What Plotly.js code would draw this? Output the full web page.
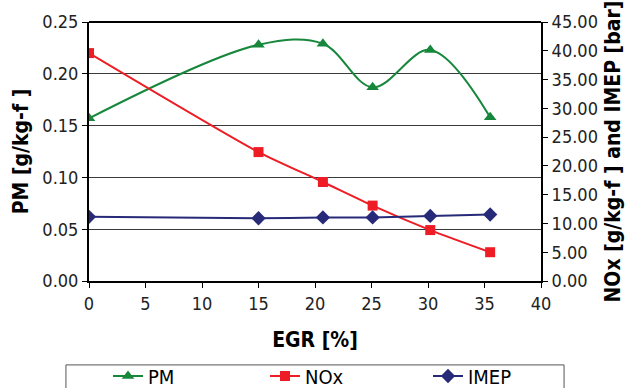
<!DOCTYPE html>
<html><head><meta charset="utf-8">
<script src="https://cdn.plot.ly/plotly-3.0.1.min.js"></script>
<style>body{margin:0;background:#fff}#c{width:630px;height:388px}</style>
</head><body><div id="c"></div>
<script>
const egr = [0, 15, 20.7, 25.1, 30.2, 35.5];
const pm = [0.157, 0.228, 0.229, 0.187, 0.223, 0.158];
const nox = [39.6, 22.4, 17.2, 13.1, 8.85, 5.0];
const imep = [11.15, 10.9, 11.05, 11.05, 11.3, 11.55];
const xTicks = [0, 5, 10, 15, 20, 25, 30, 35, 40];

const cond = "'Liberation Sans Narrow', 'DejaVu Sans Condensed', sans-serif";
const tickFont = {family: cond, size: 18, color: '#222'};
const titleFont = {family: cond, size: 21, color: '#000', weight: 'bold'};
const legFont = {family: cond, size: 20, color: '#000'};

const traces = [
  {x: egr, y: pm, name: 'PM', legend: 'legend', mode: 'lines+markers', line: {color: '#17873c', width: 2, shape: 'spline', smoothing: 1}, marker: {symbol: 'triangle-up', size: 11, color: '#17873c'}},
  {x: egr, y: nox, name: 'NOx', legend: 'legend2', yaxis: 'y2', mode: 'lines+markers', line: {color: '#ee1c24', width: 2, shape: 'spline', smoothing: 0.6}, marker: {symbol: 'square', size: 10, color: '#ee1c24'}},
  {x: egr, y: imep, name: 'IMEP', legend: 'legend3', yaxis: 'y2', mode: 'lines+markers', line: {color: '#262a78', width: 2, shape: 'spline', smoothing: 0.6}, marker: {symbol: 'diamond', size: 11, color: '#262a78'}}
];

function leg(xpx) {
  return {orientation: 'h', x: (xpx - 89) / 452, xanchor: 'left', y: (281 - 376) / 259, yanchor: 'middle',
    bgcolor: 'rgba(0,0,0,0)', font: legFont, itemwidth: 30};
}

const axisCommon = {zeroline: false, showline: true, linecolor: '#000', linewidth: 2, ticks: 'outside', ticklen: 5, tickcolor: '#000', tickfont: tickFont};

const layout = {
  width: 630, height: 388,
  margin: {l: 89, r: 89, t: 22, b: 107, autoexpand: false},
  paper_bgcolor: '#fff', plot_bgcolor: '#fff',
  showlegend: true,
  xaxis: Object.assign({range: [0, 40], tickvals: xTicks, ticktext: xTicks.map(String), showgrid: false,
    title: {text: 'EGR [%]', font: titleFont, standoff: 20}}, axisCommon),
  yaxis: Object.assign({range: [0, 0.25], dtick: 0.05, tickformat: '.2f', showgrid: true, gridcolor: '#3a3a3a', gridwidth: 1,
    title: {text: 'PM [g/kg-f ]', font: titleFont, standoff: 8}}, axisCommon),
  yaxis2: Object.assign({range: [0, 45], dtick: 5, tickformat: '.2f', overlaying: 'y', side: 'right', showgrid: false,
    title: {text: 'NOx [g/kg-f ] and IMEP [bar]', font: titleFont, standoff: 8}}, axisCommon),
  legend: leg(108),
  legend2: leg(265),
  legend3: leg(428),
  shapes: [
    {type: 'rect', xref: 'paper', yref: 'paper', x0: -0.051, x1: 1.051, y0: -0.324, y1: -0.6, line: {color: '#555', width: 1}, fillcolor: 'rgba(0,0,0,0)'},
    {type: 'line', xref: 'paper', yref: 'paper', x0: 0, x1: 1, y0: 1, y1: 1, line: {color: '#000', width: 2}}
  ]
};
Plotly.newPlot('c', traces, layout, {displayModeBar: false, staticPlot: true});
</script></body></html>
